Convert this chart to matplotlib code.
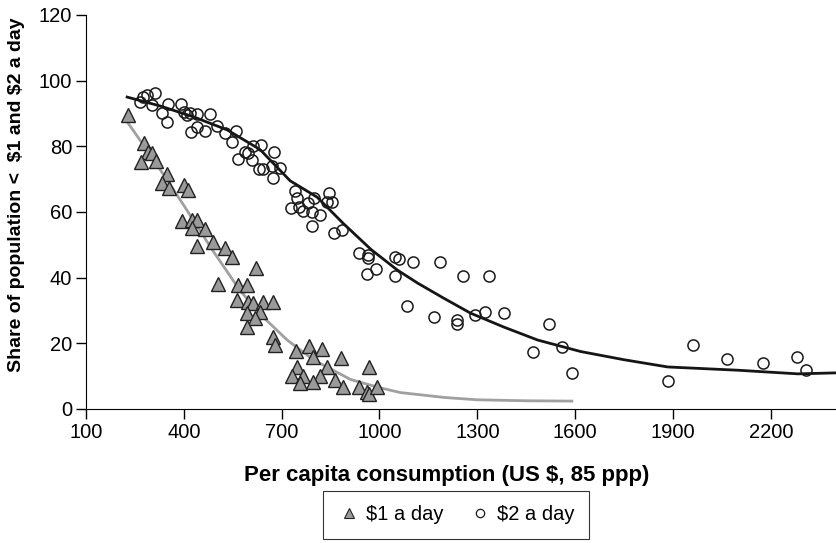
import matplotlib.pyplot as plt
import numpy as np

plt.rcParams['font.family'] = ['Liberation Sans', 'DejaVu Sans']

# $1 a day observations (consumption, share)
one_x = [229, 278, 290, 303, 269, 315, 349, 333, 355, 401, 413, 395, 425, 441, 425, 465,
         441, 490, 527, 548, 622, 505, 567, 594, 563, 597, 613, 643, 674, 594, 634, 619,
         594, 674, 680, 745, 785, 825, 797, 883, 748, 840, 969, 733, 766, 818, 757, 797,
         865, 889, 938, 963, 969, 993]
one_y = [89.6, 81, 78.3, 78, 75.2, 75.5, 71.6, 68.8, 67.3, 68.2, 66.7, 57.3, 57.6, 57.6, 55.1, 54.8,
         49.7, 50.9, 49, 46.3, 43, 38, 37.8, 37.8, 33.2, 32.6, 32.3, 32.6, 32.6, 29.2, 29.5, 27.7,
         25, 21.9, 19.5, 17.7, 19.2, 18.3, 15.8, 15.5, 12.8, 12.8, 12.8, 10, 10, 10, 7.9, 8.2,
         8.8, 6.7, 6.7, 5.2, 4.6, 6.7]

# $2 a day observations
two_x = [275, 287, 312, 266, 303, 352, 392, 333, 349, 401, 419, 441, 410, 481, 422, 441,
         465, 502, 527, 560, 548, 588, 597, 613, 637, 567, 610, 677, 631, 643, 671, 696,
         674, 742, 846, 748, 800, 840, 855, 729, 754, 766, 782, 794, 818, 794, 861, 886,
         938, 966, 966, 1049, 1061, 1104, 1187, 990, 963, 1049, 1257, 1337, 1083, 1166,
         1239, 1239, 1292, 1325, 1383, 1521, 1472, 1561, 1589, 1884, 1961, 2065, 2175,
         2280, 2307]
two_y = [95, 95.6, 96.3, 93.5, 92.6, 92.9, 92.9, 90.2, 87.4, 90.5, 90.2, 89.9, 89.6, 89.9, 84.4, 85.9,
         84.7, 86.2, 84.1, 84.7, 81.3, 78.3, 78, 80.1, 80.4, 76.1, 75.8, 78.3, 73.1, 73.1, 74, 73.4,
         70.4, 66.4, 65.8, 64.3, 64.3, 63.1, 63.1, 61.2, 61.5, 60.3, 62.7, 60, 59.1, 55.7, 53.6, 54.5,
         47.5, 46, 46.9, 46.3, 45.7, 44.8, 44.8, 42.6, 41.1, 40.5, 40.5, 40.5, 31.4, 28,
         27.1, 25.9, 28.6, 29.5, 29.2, 25.9, 17.4, 18.9, 11, 8.5, 19.5, 15.2, 14,
         15.8, 11.9]

# smoothed fits
fit1_x = [226, 300, 400, 487, 573, 643, 717, 797, 911, 1000, 1064, 1200, 1300, 1450, 1590]
fit1_y = [87.5, 77, 62, 48.5, 36, 28, 21, 15, 9, 6.5, 5, 3.5, 2.8, 2.5, 2.4]

fit2_x = [226, 327, 429, 533, 634, 726, 809, 889, 975, 1055, 1116, 1196, 1279, 1380, 1485,
          1617, 1750, 1884, 2100, 2283, 2400]
fit2_y = [95, 92.3, 89, 85, 79, 69.5, 64.5, 56.5, 48.5, 42.3, 38.4, 33.8, 29.2, 25, 21,
          17.5, 15, 12.8, 11.8, 10.7, 11]

fig = plt.figure(figsize=(8.36, 5.43), dpi=100)
ax = fig.add_axes([0.1029, 0.2468, 0.8971, 0.7256])

ax.plot(fit1_x, fit1_y, color='#a0a0a0', lw=2, zorder=2)
ax.plot(fit2_x, fit2_y, color='#151515', lw=2, zorder=2)
ax.plot(one_x, one_y, ls='none', marker='^', ms=9.5, mfc='#9a9a9a', mec='#222222', mew=1,
        zorder=3)
ax.plot(two_x, two_y, ls='none', marker='o', ms=8, mfc='none', mec='#1a1a1a', mew=1.1,
        zorder=3)

ax.set_xlim(100, 2400)
ax.set_ylim(0, 120)
ax.set_xticks(np.arange(100, 2300, 300))
ax.set_yticks(np.arange(0, 121, 20))
ax.tick_params(labelsize=14.5, direction='out', length=7, width=1, pad=3)
ax.spines['top'].set_visible(False)
ax.spines['right'].set_visible(False)

ax.set_ylabel('Share of population <  \\$1 and \\$2 a day', fontsize=14, fontweight='bold')
ax.yaxis.set_label_coords(-0.082, 0.543)
ax.set_xlabel('Per capita consumption (US \\$, 85 ppp)', fontsize=16, fontweight='bold',
              va='top')
ax.xaxis.set_label_coords(0.481, -0.141)

# legend with small markers
h1 = plt.Line2D([], [], ls='none', marker='^', ms=6.5, mfc='#9a9a9a', mec='#222222', mew=0.8)
h2 = plt.Line2D([], [], ls='none', marker='o', ms=6, mfc='none', mec='#1a1a1a', mew=0.9)
leg = fig.legend([h1, h2], ['\\$1 a day', '\\$2 a day'], loc='center',
                 bbox_to_anchor=(456 / 836, 1 - 515 / 543), ncol=2, fontsize=14.5,
                 frameon=True, fancybox=False, edgecolor='black', handlelength=1.2,
                 handletextpad=0.25, columnspacing=1.2, borderpad=0.7)
leg.get_frame().set_linewidth(0.8)

plt.savefig('out.png', dpi=100)
